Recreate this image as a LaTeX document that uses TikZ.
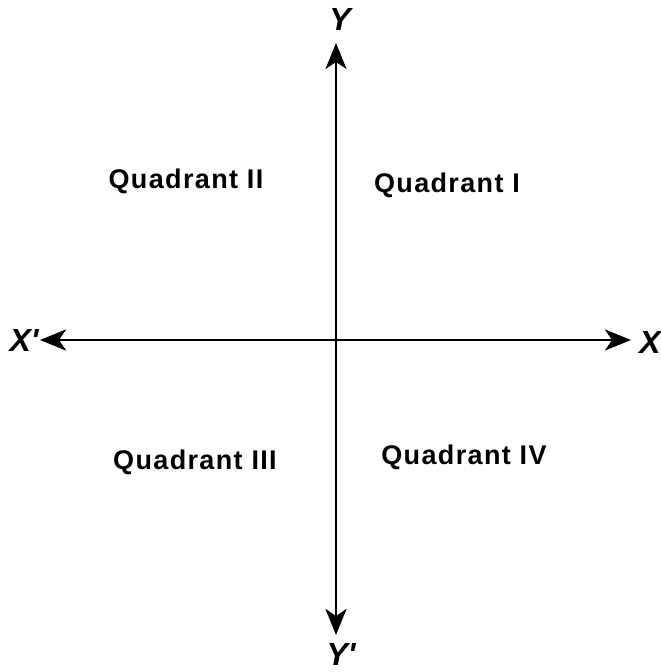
\documentclass[tikz,border=0pt]{standalone}
\usepackage{fontspec}
\setmainfont{Liberation Sans}
\newfontfamily\quadfont[LetterSpace=5]{Liberation Sans}
\usetikzlibrary{arrows.meta}
\begin{document}
\begin{tikzpicture}[x=1pt,y=1pt,
  axis/.style={line width=2.8pt,-{Stealth[length=26pt,width=21pt,inset=7pt]}},
  axlabel/.style={font=\fontsize{32}{32}\selectfont\bfseries\itshape,inner sep=0pt},
  qlabel/.style={font=\fontsize{27}{27}\selectfont\quadfont\bfseries,inner sep=0pt,anchor=base}]
\useasboundingbox (0,0) rectangle (661,672);
\coordinate (O) at (336,332);
\node[axlabel] (Y) at (340,652) {Y};
\node[axlabel] (Yp) at (341,18) {Y\textquotesingle};
\node[axlabel] (Xp) at (24,332) {X\textquotesingle};
\node[axlabel] (X) at (650,330) {X};
\coordinate (Yt) at (336,629);
\coordinate (Yb) at (336,37);
\coordinate (Xl) at (40,332);
\coordinate (Xr) at (631,332);
\draw[axis] (O) -- (Yt);
\draw[axis] (O) -- (Yb);
\draw[axis] (O) -- (Xl);
\draw[axis] (O) -- (Xr);
\node[qlabel] (q2) at (186,483) {Quadrant II};
\node[qlabel] (q1) at (447,479) {Quadrant I};
\node[qlabel] (q3) at (195,202) {Quadrant III};
\node[qlabel] (q4) at (464,207) {Quadrant IV};
\end{tikzpicture}
\end{document}
